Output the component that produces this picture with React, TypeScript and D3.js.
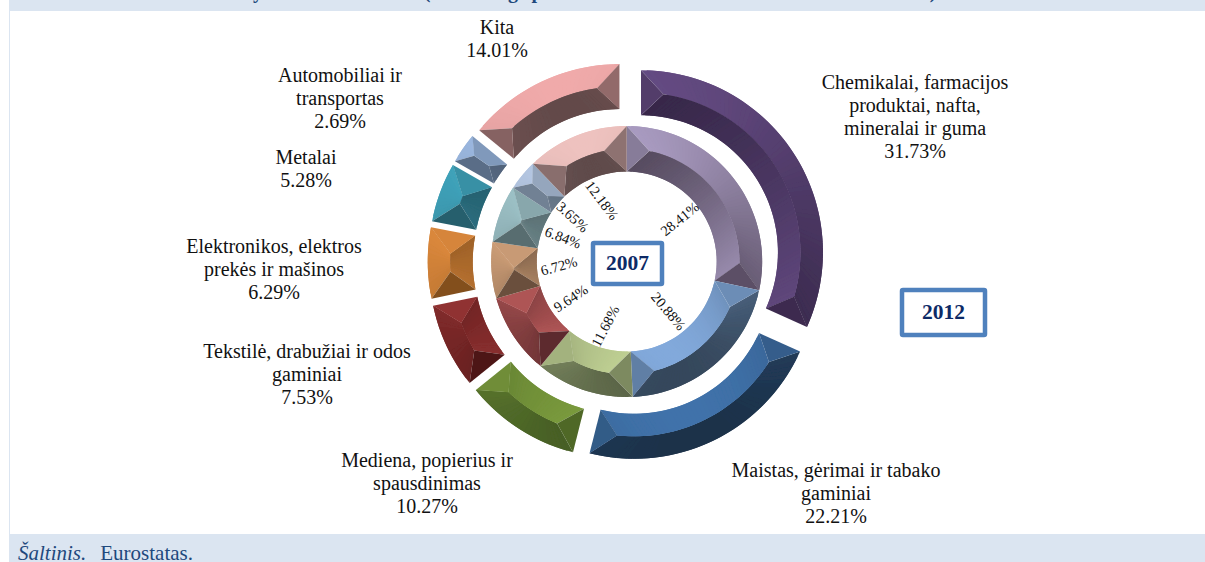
import React from 'react';
import * as d3 from 'd3';

// shares, clockwise from 12 o'clock
const categories = ['Chemikalai', 'Maistas', 'Mediena', 'Tekstile', 'Elektronika', 'Metalai', 'Automobiliai', 'Kita'];
const values2012 = [31.73, 22.21, 10.27, 7.53, 6.29, 5.28, 2.69, 14.01];
const values2007 = [28.41, 20.88, 11.68, 9.64, 6.72, 6.84, 3.65, 12.18];

const outerLabels = [
  ['Chemikalai, farmacijos', 'produktai, nafta,', 'mineralai ir guma', '31.73%'],
  ['Maistas, gėrimai ir tabako', 'gaminiai', '22.21%'],
  ['Mediena, popierius ir', 'spausdinimas', '10.27%'],
  ['Tekstilė, drabužiai ir odos', 'gaminiai', '7.53%'],
  ['Elektronikos, elektros', 'prekės ir mašinos', '6.29%'],
  ['Metalai', '5.28%'],
  ['Automobiliai ir', 'transportas', '2.69%'],
  ['Kita', '14.01%'],
];

// [shadow side, lit side]
const outerColors = [
  ['#362748', '#664c84'], ['#1c3149', '#4072aa'], ['#415822', '#7fa03f'], ['#4a1414', '#a83c3c'],
  ['#82501f', '#f89a45'], ['#235866', '#43acc5'], ['#4b5c72', '#a0bde6'], ['#634a4a', '#f0aaaa'],
];
const innerColors = [
  ['#554a5e', '#ab9dc3'], ['#35475b', '#82a9db'], ['#596346', '#c0d194'], ['#552729', '#cc6464'],
  ['#6a503c', '#edb78a'], ['#53676a', '#a4cad0'], ['#5f6f80', '#b8cae6'], ['#5f4b4b', '#eec2bf'],
];

const W = 1205;
const H = 562;
const cx = 626.7;
const cy = 261.5;
const lightDir = [-0.34, -0.94];

const pie = d3.pie<number>().sort(null).value((d) => d);
const polar = (r: number, a: number, ox = 0, oy = 0): [number, number] => [
  cx + ox + r * Math.sin(a),
  cy + oy - r * Math.cos(a),
];
const pathOf = d3.line<[number, number]>().curve(d3.curveLinearClosed);

type Facet = { d: string; fill: string };

function bevelFacets(a0: number, a1: number, r0: number, r1: number, ox: number, oy: number, cols: string[]): Facet[] {
  const ramp = d3.scaleLinear<string>().domain([-1, 1]).range(cols).interpolate(d3.interpolateRgb);
  const light = (nx: number, ny: number) => nx * lightDir[0] + ny * lightDir[1];
  const shade = (nx: number, ny: number) => ramp(light(nx, ny));
  // the end caps catch less of the light than the long faces
  const capShade = (nx: number, ny: number) => {
    const s = light(nx, ny);
    return ramp(s > 0 ? s * 0.5 : s);
  };
  const rm = (r0 + r1) / 2;
  const half = (r1 - r0) / 2;
  const delta = half / rm;
  const span = (a1 - a0) / 2;
  const long = span > delta;
  const t = span * rm;
  const rO = long ? rm : r1 - t;
  const rI = long ? rm : r0 + t;
  const rs = long ? a0 + delta : (a0 + a1) / 2;
  const re = long ? a1 - delta : (a0 + a1) / 2;
  const P = (r: number, a: number) => polar(r, a, ox, oy);

  // the long facets are cut in thin strips so that the light can turn along the arc;
  // each strip runs on under the next one, that keeps the joins from showing
  const n = Math.max(2, Math.ceil((a1 - a0) / 0.03));
  const eA = (u: number) => a0 + u * (a1 - a0);
  const rA = (u: number) => rs + u * (re - rs);
  const outerFace: Facet[] = [];
  const innerFace: Facet[] = [];
  for (let i = 0; i < n; i++) {
    const u0 = i / n;
    const u1 = Math.min(1, (i + 2) / n);
    const m = eA((i + 0.5) / n);
    outerFace.push({
      d: pathOf([P(r1, eA(u0)), P(r1, eA(u1)), P(rO, rA(u1)), P(rO, rA(u0))]) as string,
      fill: shade(Math.sin(m), -Math.cos(m)),
    });
    innerFace.push({
      d: pathOf([P(r0, eA(u0)), P(r0, eA(u1)), P(rI, rA(u1)), P(rI, rA(u0))]) as string,
      fill: shade(-Math.sin(m), Math.cos(m)),
    });
  }
  const caps: Facet[] = [
    { d: pathOf([P(r1, a0), P(rO, rs), P(rI, rs), P(r0, a0)]) as string, fill: capShade(-Math.cos(a0), -Math.sin(a0)) },
    { d: pathOf([P(r1, a1), P(rO, re), P(rI, re), P(r0, a1)]) as string, fill: capShade(Math.cos(a1), Math.sin(a1)) },
  ];
  return [...outerFace, ...innerFace, ...caps];
}

const outerPos = [[915, 89], [836, 477], [427, 467], [307, 358], [274, 253], [306, 164], [340, 82], [497, 34]];
// hand placed, as in the source chart
const innerLabelRadius = [68, 65, 68, 67, 68, 68, 70, 66];
const innerLabelTilt = [0, 0, 9, 0, -12, 0, 3, -15];
// only the descenders of the clipped heading are left in the picture
const clippedGlyphs: [string, number][] = [['y', 258], ['(', 427], ['g', 513], ['p', 537], [')', 933]];

const Ring = ({ values, r0, r1, explode, colors }: { values: number[]; r0: number; r1: number; explode: number; colors: string[][] }) => (
  <g filter="url(#soft)">
    {pie(values).map((s, i) => {
      const mid = (s.startAngle + s.endAngle) / 2;
      const ox = explode * Math.sin(mid);
      const oy = -explode * Math.cos(mid);
      return (
        <g key={categories[i]}>
          {bevelFacets(s.startAngle, s.endAngle, r0, r1, ox, oy, colors[i]).map((f, j) => (
            <path key={j} d={f.d} fill={f.fill} />
          ))}
        </g>
      );
    })}
  </g>
);

const YearBox = ({ x, y, w, h, label }: { x: number; y: number; w: number; h: number; label: string }) => (
  <g>
    <rect x={x} y={y} width={w} height={h} rx={1} fill="#fff" stroke="#4f81bd" strokeWidth={4.5} />
    <text x={x + w / 2} y={y + h / 2 + 6.5} textAnchor="middle" fontSize={21.5} fontWeight="bold" fill="#0d2a66">{label}</text>
  </g>
);

export default function App() {
  return (
    <svg width={W} height={H} style={{ position: 'absolute', left: 0, top: 0, display: 'block' }} fontFamily="'Liberation Serif', serif">
      <defs>
        <filter id="soft" x="-5%" y="-5%" width="110%" height="110%">
          <feGaussianBlur stdDeviation="0.45" />
        </filter>
      </defs>
      <rect width={W} height={H} fill="#fff" />
      <rect x={9} width={W - 9} height={11} fill="#dbe5f1" />
      <rect x={9} y={534} width={W - 9} height={28} fill="#dbe5f1" />
      <line x1={9.5} y1={11} x2={9.5} y2={534} stroke="#dbe5f1" />
      {clippedGlyphs.map(([g, x]) => (
        <text key={x} x={x} y={-2.5} textAnchor="middle" fontSize={20} fontWeight="bold" fill="#1f497d">{g}</text>
      ))}

      <Ring values={values2007} r0={90} r1={135.5} explode={0} colors={innerColors} />
      <Ring values={values2012} r0={137} r1={182} explode={17} colors={outerColors} />

      {pie(values2007).map((s, i) => {
        const mid = (s.startAngle + s.endAngle) / 2;
        const [x, y] = polar(innerLabelRadius[i], mid);
        const deg = (mid * 180) / Math.PI;
        const rot = (deg < 180 ? deg - 90 : deg - 270) + innerLabelTilt[i];
        return (
          <text key={categories[i]} transform={`translate(${x},${y}) rotate(${rot})`} textAnchor="middle" dy="0.35em" fontSize={14.5} fill="#111">
            {values2007[i].toFixed(2)}%
          </text>
        );
      })}

      {outerLabels.map((lines, i) => (
        <text key={categories[i]} textAnchor="middle" fontSize={20} fill="#111">
          {lines.map((l, j) => (
            <tspan key={j} x={outerPos[i][0]} y={outerPos[i][1] + j * 23}>{l}</tspan>
          ))}
        </text>
      ))}

      <YearBox x={593} y={243} w={69} h={41} label="2007" />
      <YearBox x={902} y={290} w={83} h={45} label="2012" />

      <text x={18} y={560} fontSize={21} fill="#1f497d">
        <tspan fontStyle="italic">Šaltinis.</tspan>
        <tspan dx={14}>Eurostatas.</tspan>
      </text>
    </svg>
  );
}
